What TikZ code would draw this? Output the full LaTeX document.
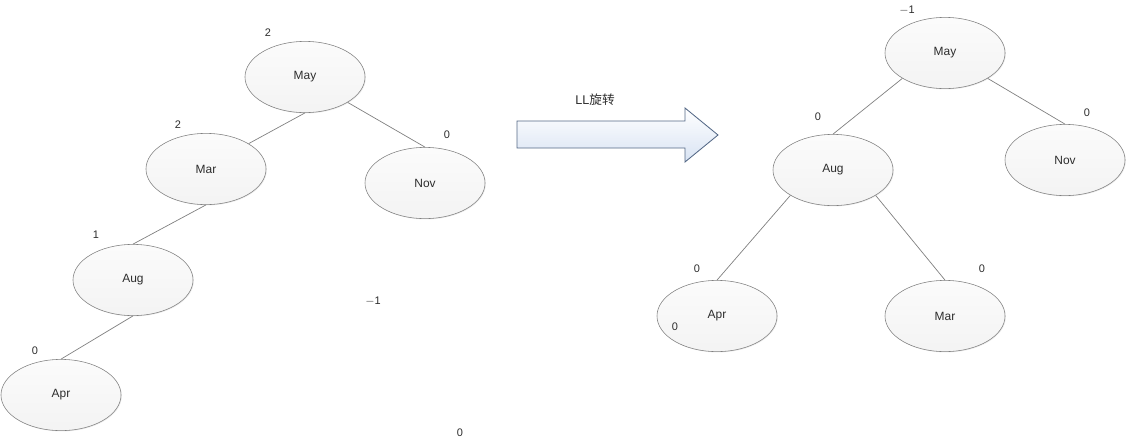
\documentclass[tikz,border=0pt]{standalone}
\usepackage{fontspec}
\setmainfont{Liberation Sans}
\newfontfamily\cjk{Noto Sans CJK SC}
\usetikzlibrary{shapes.geometric,shadows}
\definecolor{nodeline}{RGB}{128,128,128}
\definecolor{nodetext}{RGB}{45,45,45}
\definecolor{arrowline}{RGB}{84,104,134}
\definecolor{arrowfill}{RGB}{216,227,243}
\tikzset{
    avl/.style={ellipse, draw=nodeline, inner sep=0pt,
        minimum width=3cm, minimum height=1.78cm,
        top color=white!97!gray, bottom color=gray!9,
        drop shadow={opacity=0.15, shadow xshift=0.6pt, shadow yshift=-0.6pt},
        text=nodetext, font=\fontsize{8.5}{10}\selectfont},
    bf/.style={text=nodetext, inner sep=0pt, font=\fontsize{7.8}{9}\selectfont},
    edge/.style={draw=nodeline, line width=0.5pt}
}

\begin{document}
\begin{tikzpicture}[x=0.025cm, y=-0.025cm]
    \useasboundingbox (0,0) rectangle (1129,442);

    %% Before rotation
    \node[avl] (may1) at (305,77) {May};
    \node[avl] (mar1) at (206,169) {Mar};
    \node[avl] (nov1) at (425,183) {Nov};
    \node[avl] (aug1) at (133,280) {Aug};
    \node[avl] (apr1) at (61,395) {Apr};

    \draw[edge] (may1.south) -- (mar1.north east);
    \draw[edge] (may1.south east) -- (nov1.north);
    \draw[edge] (mar1.south) -- (aug1.north);
    \draw[edge] (aug1.south) -- (apr1.north);

    % balance factors
    \node[bf] (bmay1) at (268,33) {2};
    \node[bf] (bmar1) at (178,125) {2};
    \node[bf] (bnov1) at (447,135) {0};
    \node[bf] (baug1) at (96,235) {1};
    \node[bf] (bapr1) at (35,351) {0};
    \node[bf] (bx1) at (373,301) {$-$1};
    \node[bf] (bx2) at (460,433) {0};

    %% Rotation arrow
    \draw[draw=arrowline, line width=0.6pt, top color=white, bottom color=arrowfill]
        (517,121) -- (685,121) -- (685,108) -- (718,135) -- (685,162)
        -- (685,148) -- (517,148) -- cycle;
    \node[bf, font=\fontsize{9}{10}\selectfont] (rot) at (595,100) {LL{\cjk 旋转}};

    %% After rotation
    \node[avl] (may2) at (945,53) {May};
    \node[avl] (aug2) at (833,170) {Aug};
    \node[avl] (nov2) at (1065,160) {Nov};
    \node[avl] (apr2) at (717,316) {Apr};
    \node[avl] (mar2) at (945,316) {Mar};

    \draw[edge] (may2.south west) -- (aug2.north);
    \draw[edge] (may2.south east) -- (nov2.north);
    \draw[edge] (aug2.south west) -- (apr2.north);
    \draw[edge] (aug2.south east) -- (mar2.north);

    % balance factors
    \node[bf] (bmay2) at (907,10) {$-$1};
    \node[bf] (baug2) at (818,117) {0};
    \node[bf] (bnov2) at (1087,113) {0};
    \node[bf] (bapr2) at (697,269) {0};
    \node[bf] (bapr3) at (675,327) {0};
    \node[bf] (bmar2) at (982,269) {0};

\end{tikzpicture}
\end{document}
